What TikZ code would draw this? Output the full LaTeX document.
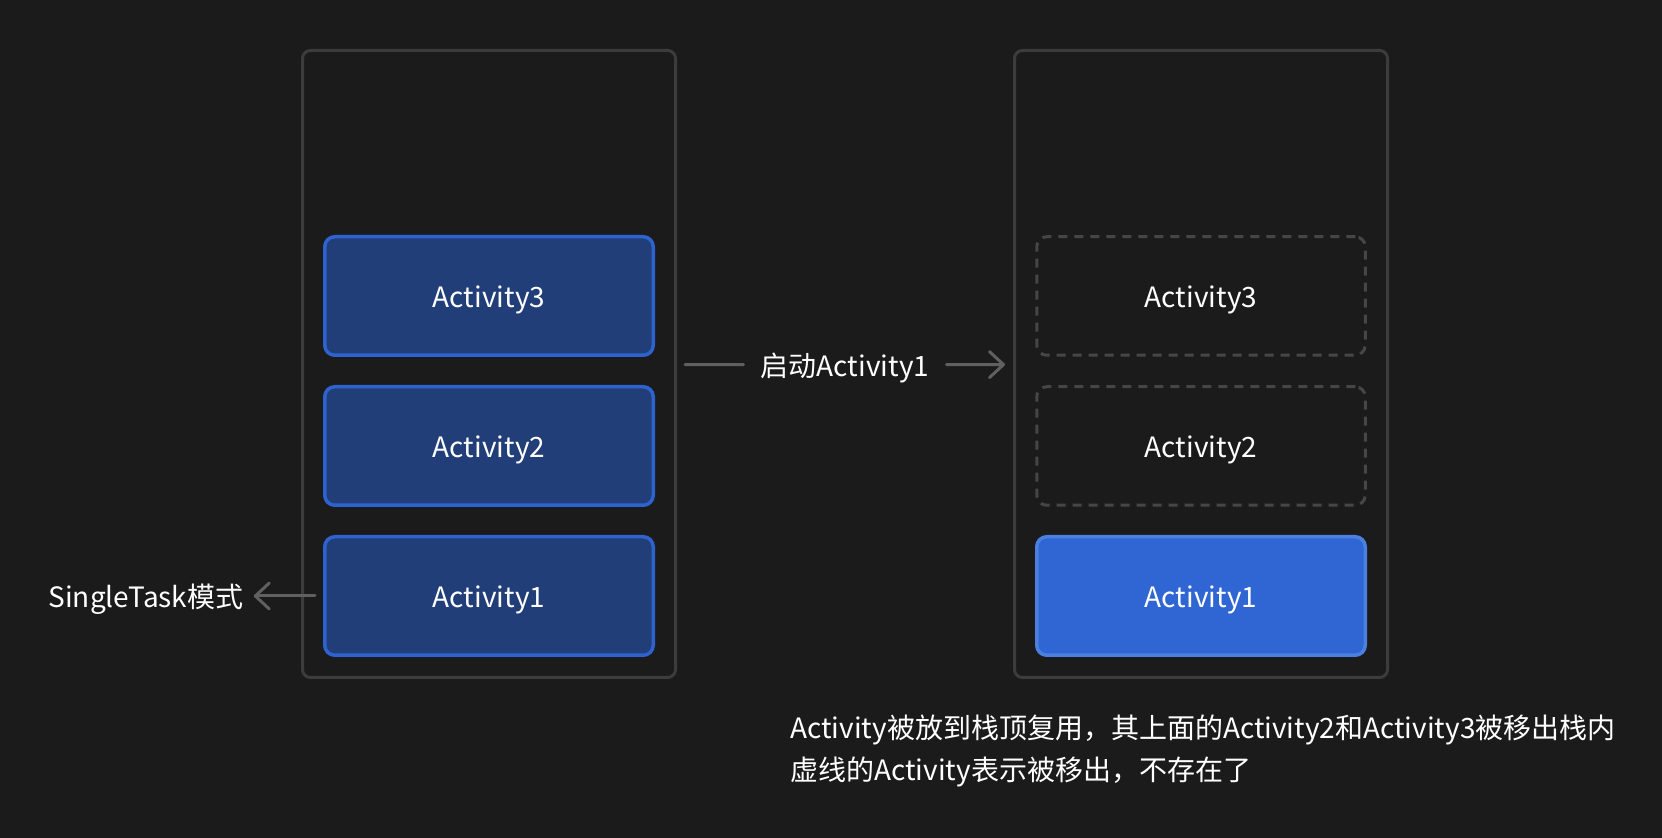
\documentclass[tikz,border=0pt]{standalone}
\usepackage{fontspec}
\setmainfont{Noto Sans CJK SC}
\usetikzlibrary{arrows.meta}
\definecolor{bg}{HTML}{1B1B1B}
\definecolor{frame}{HTML}{3C3C3C}
\definecolor{navy}{HTML}{213E78}
\definecolor{edge}{HTML}{2E63CF}
\definecolor{bright}{HTML}{2F66D3}
\definecolor{brightedge}{HTML}{4B80E0}
\definecolor{ghost}{HTML}{464646}
\definecolor{wire}{HTML}{606060}
\tikzstyle{stack} = [rectangle, rounded corners=4pt, minimum width=186.5pt, minimum height=313.5pt, draw=frame, line width=1.5pt]
\tikzstyle{activity} = [rectangle, rounded corners=5pt, minimum width=164.25pt, minimum height=59.25pt, text height=12pt, text depth=0pt, text centered, text=white, draw=edge, fill=navy, line width=1.75pt]
\tikzstyle{popped} = [activity, draw=ghost, fill=none, dash pattern=on 4.5pt off 3.5pt, line width=1.5pt]
\tikzstyle{reused} = [activity, draw=brightedge, fill=bright]
\tikzstyle{caption} = [text=white, inner sep=0pt, text height=12pt, text depth=0pt]
\tikzstyle{link} = [draw=wire, line width=1.5pt, line cap=round]
\tikzstyle{arrow} = [link, -{Straight Barb[length=7pt, width=13pt, round]}]

\begin{document}
\begin{tikzpicture}[x=0.5pt, y=-0.5pt, node distance=75pt, font=\fontsize{14pt}{20pt}\selectfont]
    \fill [bg] (0,0) rectangle (1662,838);

    \node (stackA) [stack] at (489,364)  {};
    \node (stackB) [stack] at (1201,364) {};

    \node (a3) [activity] at (489,296)    {Activity3};
    \node (a2) [activity, below of=a3]    {Activity2};
    \node (a1) [activity, below of=a2]    {Activity1};

    \node (b3) [popped] at (1201,296)     {Activity3};
    \node (b2) [popped, below of=b3]      {Activity2};
    \node (b1) [reused, below of=b2]      {Activity1};

    \node (launch) [caption] at (845,365) {启动Activity1};
    \node (mode)   [caption] at (146,596) {SingleTask模式};
    \node (note1)  [caption, anchor=west] at (790,727)
      {Activity被放到栈顶复用，其上面的Activity2和Activity3被移出栈内};
    \node (note2)  [caption, anchor=west] at (790,769)
      {虚线的Activity表示被移出，不存在了};

    \draw [link, shorten <=4pt, shorten >=8.5pt]  (stackA) -- (launch);
    \draw [arrow, shorten <=8.5pt, shorten >=4pt] (launch) -- (stackB);
    \draw [arrow, shorten <=4pt, shorten >=5pt]   (a1)     -- (mode);
  \end{tikzpicture}
\end{document}
